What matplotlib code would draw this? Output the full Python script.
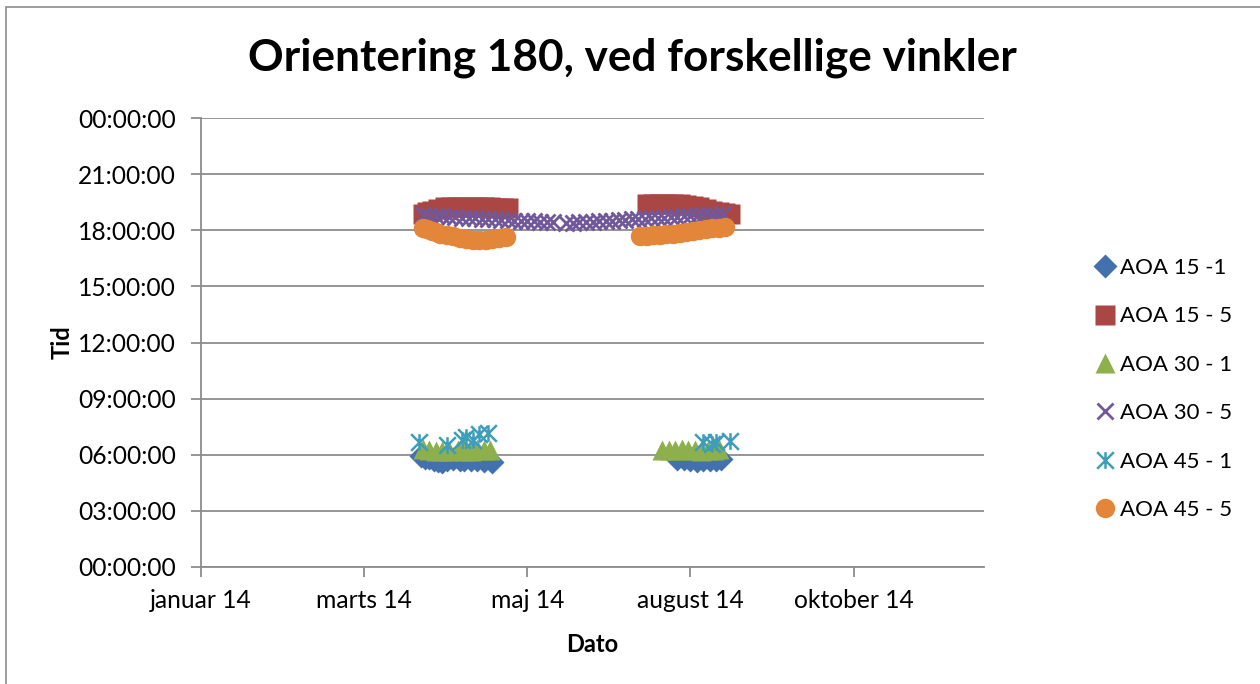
import matplotlib
matplotlib.use("Agg")
import matplotlib.pyplot as plt
from matplotlib.path import Path
from matplotlib.patches import Rectangle

plt.rcParams['font.family'] = ['Lato', 'DejaVu Sans']

# x = days after 1 Jan 2014, y = time of day in hours
blue_x = [101, 103, 105, 107, 109, 111, 113, 116, 119, 121, 124, 127, 130, 134]
blue_y = [5.95, 5.85, 5.80, 5.72, 5.68, 5.62, 5.70, 5.75, 5.72, 5.70, 5.72, 5.72, 5.68, 5.62]
blue2_x = [219, 222, 225, 228, 231, 234, 237, 239]
blue2_y = [5.78, 5.75, 5.72, 5.68, 5.72, 5.70, 5.74, 5.78]

red_x = [102, 104, 106, 109, 112, 115, 118, 121, 124, 127, 130, 133, 136, 139, 141]
red_y = [18.85, 18.95, 19.05, 19.15, 19.22, 19.25, 19.25, 19.25, 19.25, 19.25, 19.22, 19.22, 19.20, 19.20, 19.20]
red2_x = [205, 208, 211, 214, 217, 220, 223, 226, 229, 232, 235, 238, 241, 243]
red2_y = [19.38, 19.40, 19.40, 19.40, 19.38, 19.38, 19.35, 19.32, 19.25, 19.15, 19.05, 18.95, 18.90, 18.85]

green_x = [102, 105, 108, 111, 114, 118, 121, 124, 127, 130, 133]
green_y = [6.30, 6.25, 6.20, 6.22, 6.18, 6.25, 6.20, 6.22, 6.30, 6.28, 6.25]
green2_x = [212, 215, 218, 221, 224, 227, 230, 233, 236, 238]
green2_y = [6.28, 6.25, 6.28, 6.30, 6.25, 6.28, 6.22, 6.25, 6.28, 6.30]

purple_x = [102, 105, 108, 111, 114, 117, 120, 123, 126, 129, 132, 135, 138, 141, 144,
            147, 150, 153, 156, 159, 162, 168, 171, 174, 177, 180, 183, 186, 189, 192,
            195, 198, 201, 204, 207, 210, 213, 216, 219, 222, 225, 228, 231, 234, 237,
            240]
purple_y = [18.80, 18.78, 18.76, 18.74, 18.72, 18.70, 18.68, 18.66, 18.64, 18.62, 18.60,
            18.58, 18.56, 18.54, 18.52, 18.50, 18.48, 18.47, 18.46, 18.45, 18.44, 18.40,
            18.40, 18.42, 18.44, 18.46, 18.48, 18.50, 18.52, 18.54, 18.56, 18.58, 18.60,
            18.62, 18.64, 18.66, 18.68, 18.70, 18.72, 18.74, 18.76, 18.78, 18.80, 18.82,
            18.84, 18.86]

cyan_x = [100, 113, 120, 122, 125, 128, 132]
cyan_y = [6.68, 6.52, 6.79, 6.95, 6.80, 7.10, 7.15]
cyan2_x = [231, 235, 237, 243]
cyan2_y = [6.68, 6.60, 6.70, 6.72]

orange_x = [102, 104, 106, 108, 110, 113, 116, 119, 122, 125, 128, 131, 134, 137, 140]
orange_y = [18.12, 18.05, 17.98, 17.90, 17.82, 17.75, 17.68, 17.60, 17.55, 17.50, 17.48, 17.50, 17.55, 17.60, 17.65]
orange2_x = [202, 205, 208, 211, 214, 217, 220, 223, 226, 229, 232, 235, 238, 241]
orange2_y = [17.68, 17.70, 17.72, 17.75, 17.78, 17.82, 17.86, 17.90, 17.95, 18.00, 18.05, 18.10, 18.12, 18.15]

x_ticks = [0, 75, 150, 225, 300]
x_labels = ['januar 14', 'marts 14', 'maj 14', 'august 14', 'oktober 14']
y_ticks = [0, 3, 6, 9, 12, 15, 18, 21, 24]
y_labels = ['00:00:00', '03:00:00', '06:00:00', '09:00:00', '12:00:00',
            '15:00:00', '18:00:00', '21:00:00', '00:00:00']

# asterisk marker like excel (x plus vertical bar)
star = Path([(0, -1), (0, 1), (-1, -1), (1, 1), (-1, 1), (1, -1)],
            [Path.MOVETO, Path.LINETO, Path.MOVETO, Path.LINETO, Path.MOVETO, Path.LINETO])

c_blue = '#4271AD'
c_red = '#AA4643'
c_green = '#8DAF4C'
c_purple = '#71589A'
c_cyan = '#3E9EBA'
c_orange = '#E3863A'

fig = plt.figure(figsize=(12.6, 6.84), dpi=100)
fig.patches.append(Rectangle((6 / 1260, -0.01), 1.02, 1 - 7 / 684 + 0.01,
                             transform=fig.transFigure, fill=False,
                             edgecolor='#8C8C8C', linewidth=1.2))
ax = fig.add_axes([201 / 1260, 1 - 567 / 684, 783 / 1260, 449 / 684])

ax.plot(blue_x + blue2_x, blue_y + blue2_y, 'D', color=c_blue, ms=12, mec='none', label='AOA 15 -1')
ax.plot(red_x + red2_x, red_y + red2_y, 's', color=c_red, ms=14, mec='none', label='AOA 15 - 5')
ax.plot(green_x + green2_x, green_y + green2_y, '^', color=c_green, ms=14, mec='none', label='AOA 30 - 1')
ax.plot(purple_x, purple_y, 'x', color=c_purple, ms=12, mew=2, label='AOA 30 - 5')
ax.plot(cyan_x + cyan2_x, cyan_y + cyan2_y, marker=star, ls='none', color=c_cyan, ms=12, mew=1.8, label='AOA 45 - 1')
ax.plot(orange_x + orange2_x, orange_y + orange2_y, 'o', color=c_orange, ms=14, mec='none', label='AOA 45 - 5')

ax.set_xlim(0, 360)
ax.set_ylim(0, 24)
ax.set_xticks(x_ticks)
ax.set_xticklabels(x_labels)
ax.set_yticks(y_ticks)
ax.set_yticklabels(y_labels)
ax.tick_params(axis='both', labelsize=17.7, colors='#8C8C8C', labelcolor='black',
               length=7, width=1.3, direction='out')
ax.tick_params(axis='x', pad=9)
ax.tick_params(axis='y', pad=11)
ax.grid(axis='y', color='#8C8C8C', linewidth=1.3)
ax.set_axisbelow(True)
for s in ['top', 'right']:
    ax.spines[s].set_visible(False)
for s in ['left', 'bottom']:
    ax.spines[s].set_color('#8C8C8C')
    ax.spines[s].set_linewidth(1.3)

ax.set_xlabel('Dato', fontsize=17, fontweight='bold', labelpad=15)
ax.set_ylabel('Tid', fontsize=17, fontweight='bold', labelpad=3)
fig.text(632 / 1260, 1 - 58 / 684, 'Orientering 180, ved forskellige vinkler',
         ha='center', va='center', fontsize=31.8, fontweight='bold')

fig.legend(loc='center left', bbox_to_anchor=(1087 / 1260, 1 - 389 / 684), frameon=False,
           fontsize=16, labelspacing=1.28, handlelength=0.8, handletextpad=0.3,
           borderaxespad=0)

fig.savefig('out.png', dpi=100)
